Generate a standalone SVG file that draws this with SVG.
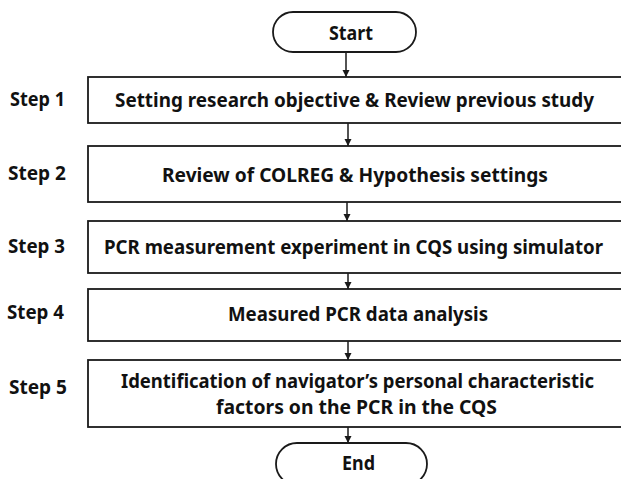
<svg xmlns="http://www.w3.org/2000/svg" width="621" height="479" viewBox="0 0 621 479">
<style>
  .box { fill: #ffffff; stroke: #1a1a1a; stroke-width: 1.8; }
  .t { font-family: "Noto Sans", "Liberation Sans", sans-serif; font-weight: bold; font-size: 19px; fill: #111111; text-anchor: middle; }
  .s { font-family: "Noto Sans", "Liberation Sans", sans-serif; font-weight: bold; font-size: 19px; fill: #111111; }
  .c { stroke: #1a1a1a; stroke-width: 1.5; fill: none; marker-end: url(#ah); }
</style>
<defs>
  <marker id="ah" markerWidth="8" markerHeight="8" refX="7" refY="4" orient="auto" markerUnits="userSpaceOnUse">
    <path d="M0,0.5 L7,4 L0,7.5 Z" fill="#1a1a1a"/>
  </marker>
</defs>
<rect width="621" height="479" fill="#ffffff"/>
<g id="connectors">
  <line class="c" x1="346" y1="52" x2="346" y2="77"/>
  <line class="c" x1="348" y1="123" x2="348" y2="146"/>
  <line class="c" x1="347" y1="202" x2="347" y2="221"/>
  <line class="c" x1="348" y1="273" x2="348" y2="289"/>
  <line class="c" x1="348" y1="341" x2="348" y2="360"/>
  <line class="c" x1="348" y1="427" x2="348" y2="443"/>
</g>
<g id="start">
  <rect class="box" x="273" y="12" width="143" height="40" rx="20" ry="20"/>
  <text class="t" x="351" y="40" textLength="44" lengthAdjust="spacingAndGlyphs">Start</text>
</g>
<g id="step1">
  <text class="s" x="10" y="106" textLength="55" lengthAdjust="spacingAndGlyphs">Step 1</text>
  <rect class="box" x="88" y="77" width="540" height="46"/>
  <text class="t" x="354.5" y="107" textLength="479" lengthAdjust="spacingAndGlyphs">Setting research objective &amp; Review previous study</text>
</g>
<g id="step2">
  <text class="s" x="8" y="180" textLength="58" lengthAdjust="spacingAndGlyphs">Step 2</text>
  <rect class="box" x="88" y="146" width="540" height="56"/>
  <text class="t" x="355" y="182" textLength="386" lengthAdjust="spacingAndGlyphs">Review of COLREG &amp; Hypothesis settings</text>
</g>
<g id="step3">
  <text class="s" x="8" y="253" textLength="57" lengthAdjust="spacingAndGlyphs">Step 3</text>
  <rect class="box" x="88" y="221" width="540" height="52"/>
  <text class="t" x="353.5" y="254" textLength="499" lengthAdjust="spacingAndGlyphs">PCR measurement experiment in CQS using simulator</text>
</g>
<g id="step4">
  <text class="s" x="7" y="319" textLength="57" lengthAdjust="spacingAndGlyphs">Step 4</text>
  <rect class="box" x="88" y="289" width="540" height="52"/>
  <text class="t" x="358" y="321" textLength="260" lengthAdjust="spacingAndGlyphs">Measured PCR data analysis</text>
</g>
<g id="step5">
  <text class="s" x="9" y="394" textLength="58" lengthAdjust="spacingAndGlyphs">Step 5</text>
  <rect class="box" x="88" y="360" width="540" height="67"/>
  <text class="t" x="357.5" y="388" textLength="473" lengthAdjust="spacingAndGlyphs">Identification of navigator’s personal characteristic</text>
  <text class="t" x="356.5" y="414" textLength="281" lengthAdjust="spacingAndGlyphs">factors on the PCR in the CQS</text>
</g>
<g id="end">
  <rect class="box" x="276" y="443" width="151" height="42" rx="21" ry="21"/>
  <text class="t" x="358.5" y="470" textLength="33" lengthAdjust="spacingAndGlyphs">End</text>
</g>
</svg>
